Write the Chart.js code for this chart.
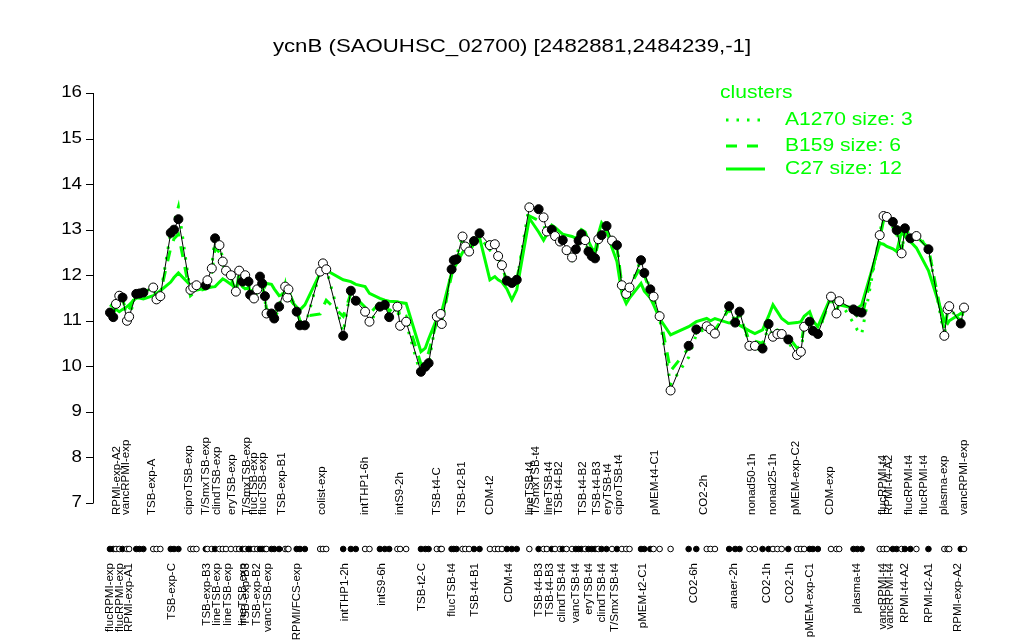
<!DOCTYPE html>
<html>
<head>
<meta charset="utf-8">
<title>ycnB expression</title>
<script src="https://cdn.jsdelivr.net/npm/chart.js@4.4.0/dist/chart.umd.min.js"></script>
<style>
  html, body { margin: 0; padding: 0; background: #fff; }
  #wrap { width: 1024px; height: 640px; }
</style>
</head>
<body>
<div id="wrap"><canvas id="chart" width="1024" height="640"></canvas></div>
<script>
const chartTitle = "ycnB (SAOUHSC_02700) [2482881,2484239,-1]";

// sample positions along the x axis (in sample slots, groups have small gaps)
const positions = [
  0, 0.6, 1.1, 1.7, 2.3, 3.1, 3.5, 4.8, 5.4, 6.1,
  7.9, 8.5, 9.2, 11.1, 11.7, 12.5, 14.7, 15.2, 15.8, 17.5,
  17.8, 18.6, 19.2, 20.0, 20.6, 21.2, 22.1, 23.0, 23.6, 24.2,
  24.7, 25.3, 25.6, 26.3, 26.9, 27.4, 27.8, 28.3, 28.6, 29.5,
  30.0, 30.9, 32.0, 32.4, 32.6, 34.1, 34.7, 35.6, 38.4, 38.9,
  39.5, 42.6, 44.0, 44.9, 46.6, 47.4, 49.3, 50.2, 51.0, 52.5,
  53.0, 54.1, 56.8, 57.6, 58.2, 59.7, 60.4, 60.6, 62.4, 62.8,
  63.3, 64.4, 64.9, 65.6, 66.5, 67.5, 69.4, 70.3, 70.9, 71.6,
  72.5, 73.4, 74.3, 76.6, 78.3, 79.2, 79.8, 80.7, 81.3, 82.2,
  82.7, 83.4, 84.4, 85.1, 85.6, 86.1, 86.8, 87.4, 88.0, 88.6,
  89.2, 89.8, 90.7, 91.7, 92.6, 93.5, 94.3, 94.9, 97.0, 97.6,
  98.7, 99.3, 100.4, 102.4, 105.7, 107.1, 109.0, 109.7, 110.5, 113.1,
  114.2, 115.0, 116.8, 117.8, 119.2, 120.3, 121.1, 121.9, 122.7, 123.9,
  125.5, 126.2, 126.8, 127.8, 128.4, 129.3, 131.7, 132.7, 133.2, 135.8,
  136.5, 137.3, 140.6, 141.3, 141.9, 143.0, 143.7, 144.6, 145.2, 146.2,
  147.3, 149.5, 152.4, 153.0, 153.3, 155.4, 156.0
];

// gene expression (log2) per sample
const expression = [
  11.18, 11.08, 11.37, 11.55, 11.51, 11.00, 11.09, 11.59, 11.60, 11.62,
  11.73, 11.47, 11.54, 12.93, 13.00, 13.23, 11.68, 11.73, 11.78, 11.78,
  11.89, 12.15, 12.81, 12.66, 12.30, 12.10, 12.00, 11.64, 12.10, 11.86,
  12.00, 11.86, 11.57, 11.49, 11.69, 11.97, 11.82, 11.54, 11.16, 11.16,
  11.05, 11.31, 11.75, 11.51, 11.69, 11.20, 10.90, 10.90, 12.08, 12.26,
  12.13, 10.67, 11.66, 11.44, 11.20, 10.98, 11.31, 11.35, 11.08, 11.31,
  10.89, 10.98, 9.88, 9.99, 10.07, 11.09, 11.15, 10.93, 12.13, 12.33,
  12.35, 12.85, 12.63, 12.52, 12.75, 12.92, 12.66, 12.68, 12.42, 12.22,
  11.88, 11.83, 11.90, 13.49, 13.45, 13.27, 12.96, 13.00, 12.86, 12.74,
  12.77, 12.55, 12.39, 12.57, 12.76, 12.90, 12.77, 12.52, 12.42, 12.37,
  12.79, 12.88, 13.08, 12.76, 12.66, 11.78, 11.59, 11.73, 12.33, 12.05,
  11.69, 11.53, 11.10, 9.47, 10.45, 10.81, 10.88, 10.81, 10.72, 11.32,
  10.96, 11.20, 10.45, 10.45, 10.39, 10.93, 10.65, 10.71, 10.71, 10.59,
  10.25, 10.32, 10.87, 10.98, 10.78, 10.71, 11.53, 11.16, 11.43, 11.25,
  11.20, 11.18, 12.88, 13.30, 13.28, 13.17, 12.99, 12.48, 13.03, 12.81,
  12.86, 12.57, 10.67, 11.25, 11.32, 10.94, 11.29
];

// 1 = filled marker, 0 = open marker
const filled = [
  1, 1, 0, 0, 1, 0, 0, 1, 1, 1,
  0, 0, 0, 1, 1, 1, 0, 0, 0, 1,
  0, 0, 1, 0, 0, 0, 0, 0, 0, 1,
  0, 1, 1, 0, 0, 1, 1, 1, 0, 1,
  1, 1, 0, 0, 0, 1, 1, 1, 0, 0,
  0, 1, 1, 1, 0, 0, 1, 1, 1, 0,
  0, 0, 1, 1, 1, 0, 0, 0, 1, 1,
  1, 0, 0, 0, 1, 1, 0, 0, 0, 0,
  1, 1, 1, 0, 1, 0, 0, 1, 0, 0,
  1, 0, 0, 1, 1, 1, 0, 1, 1, 1,
  0, 1, 1, 0, 1, 0, 0, 0, 1, 1,
  1, 0, 0, 0, 1, 1, 0, 0, 0, 1,
  1, 1, 0, 0, 1, 1, 0, 0, 0, 1,
  0, 0, 0, 1, 1, 1, 0, 0, 0, 1,
  1, 1, 0, 0, 0, 1, 1, 0, 1, 1,
  0, 1, 0, 0, 0, 1, 0
];

// cluster profiles
const clusterA1270 = [
  11.10, 11.05, 11.40, 11.55, 11.50, 11.05, 11.10, 11.55, 11.65, 11.70,
  11.80, 11.45, 11.55, 12.95, 13.15, 13.50, 11.60, 11.70, 11.80, 11.75,
  11.85, 12.20, 12.85, 12.70, 12.35, 12.15, 11.95, 11.55, 12.10, 11.85,
  12.05, 11.85, 11.50, 11.40, 11.65, 12.00, 11.85, 11.50, 11.10, 11.10,
  11.00, 11.30, 11.80, 11.45, 11.70, 11.15, 10.85, 10.85, 12.10, 12.30,
  12.15, 10.75, 11.70, 11.40, 11.15, 10.95, 11.30, 11.35, 11.05, 11.30,
  10.85, 10.95, 9.80, 9.95, 10.05, 11.10, 11.15, 10.90, 12.15, 12.35,
  12.40, 12.90, 12.65, 12.50, 12.80, 12.95, 12.70, 12.70, 12.40, 12.20,
  11.85, 11.80, 11.85, 13.55, 13.45, 13.30, 12.95, 13.05, 12.85, 12.75,
  12.80, 12.55, 12.35, 12.60, 12.80, 12.95, 12.80, 12.50, 12.40, 12.35,
  12.85, 12.95, 13.15, 12.80, 12.70, 11.75, 11.55, 11.70, 12.35, 12.05,
  11.70, 11.50, 11.05, 9.60, 10.20, 10.70, 10.85, 10.80, 10.70, 11.35,
  10.95, 11.20, 10.45, 10.40, 10.35, 10.95, 10.60, 10.70, 10.70, 10.55,
  10.20, 10.30, 10.85, 11.00, 10.75, 10.70, 11.55, 11.15, 11.45, 10.95,
  10.80, 10.70, 12.90, 13.35, 13.30, 13.20, 13.00, 12.45, 13.05, 12.85,
  12.90, 12.60, 10.65, 11.25, 11.30, 10.95, 11.30
];
const clusterB159 = [
  11.25, 11.15, 11.30, 11.50, 11.45, 11.20, 11.25, 11.60, 11.60, 11.65,
  11.70, 11.50, 11.60, 12.60, 12.80, 12.90, 11.55, 11.60, 11.65, 11.70,
  11.80, 12.05, 12.60, 12.50, 12.25, 12.05, 11.95, 11.60, 12.05, 11.80,
  11.95, 11.80, 11.55, 11.45, 11.65, 11.90, 11.80, 11.50, 11.25, 11.20,
  11.10, 11.35, 11.70, 11.50, 11.65, 11.25, 11.00, 11.10, 11.15, 11.30,
  11.45, 11.10, 11.60, 11.50, 11.30, 11.15, 11.40, 11.45, 11.20, 11.40,
  11.05, 11.10, 10.05, 10.15, 10.30, 11.00, 11.10, 11.00, 12.00, 12.25,
  12.30, 12.75, 12.60, 12.50, 12.70, 12.85, 12.55, 12.60, 12.40, 12.20,
  11.85, 11.80, 11.90, 13.30, 13.20, 13.10, 12.90, 12.95, 12.80, 12.70,
  12.75, 12.55, 12.40, 12.55, 12.70, 12.85, 12.75, 12.50, 12.45, 12.40,
  12.75, 12.85, 13.00, 12.70, 12.60, 11.80, 11.65, 11.75, 12.20, 12.00,
  11.65, 11.50, 11.15, 9.90, 10.40, 10.75, 10.90, 10.85, 10.80, 11.25,
  11.00, 11.15, 10.55, 10.55, 10.50, 10.95, 10.75, 10.80, 10.75, 10.65,
  10.40, 10.45, 10.90, 10.95, 10.80, 10.75, 11.50, 11.20, 11.40, 11.20,
  11.10, 11.05, 12.80, 13.20, 13.15, 13.05, 12.90, 12.55, 12.95, 12.80,
  12.85, 12.60, 10.80, 11.20, 11.25, 11.00, 11.25
];
const clusterC27 = [
  11.35, 11.30, 11.25, 11.20, 11.25, 11.31, 11.35, 11.50, 11.50, 11.48,
  11.55, 11.60, 11.66, 11.85, 11.95, 12.05, 11.78, 11.72, 11.67, 11.72,
  11.72, 11.74, 11.75, 11.85, 11.92, 11.88, 11.80, 11.72, 11.90, 11.75,
  11.70, 11.72, 11.65, 11.68, 11.70, 11.85, 11.80, 11.75, 11.82, 11.80,
  11.70, 11.55, 11.60, 11.55, 11.50, 11.30, 11.24, 11.35, 12.05, 12.10,
  12.11, 11.90, 11.86, 11.80, 11.75, 11.60, 11.49, 11.45, 11.43, 11.42,
  11.40, 11.38, 10.32, 10.40, 10.60, 11.05, 11.15, 11.20, 12.05, 12.15,
  12.25, 12.50, 12.58, 12.65, 12.75, 12.83, 11.90, 11.97, 11.90, 11.85,
  11.70, 11.46, 11.68, 13.25, 12.95, 12.77, 12.90, 13.10, 13.05, 12.95,
  12.90, 12.88, 12.85, 12.81, 12.90, 13.00, 12.95, 12.75, 12.60, 12.52,
  12.90, 13.15, 13.00, 12.60, 12.30, 11.60, 11.38, 11.50, 11.82, 11.65,
  11.50, 11.35, 11.05, 10.69, 10.87, 10.98, 11.05, 11.00, 11.05, 10.95,
  10.98, 10.90, 10.78, 10.72, 10.80, 11.10, 11.35, 11.20, 11.05, 10.94,
  10.96, 10.98, 11.10, 11.20, 11.00, 10.87, 11.53, 11.40, 11.35, 11.28,
  11.27, 11.35, 12.70, 12.68, 12.63, 12.58, 12.52, 12.96, 12.85, 12.74,
  12.60, 12.10, 11.00, 10.94, 11.00, 11.16, 11.20
];

const yTicks = [7, 8, 9, 10, 11, 12, 13, 14, 15, 16];

// sample labels: [position, text]
const bottomLabels = [
  [0, "flucRPMI-exp"], [1.8, "flucRPMI-exp"], [3.5, "RPMI-exp-A1"], [11.3, "TSB-exp-C"],
  [17.7, "TSB-exp-B3"], [19.5, "lineTSB-exp"], [21.6, "lineTSB-exp"], [24.3, "lineTSB-exp"],
  [24.8, "TSB-exp-B3"], [26.9, "TSB-exp-B2"], [28.9, "vancTSB-exp"], [34.1, "RPMI/FCS-exp"],
  [42.9, "intTHP1-2h"], [49.6, "intS9-6h"], [56.9, "TSB-t2-C"], [62.4, "flucTSB-t4"],
  [66.7, "TSB-t4-B1"], [72.8, "CDM-t4"], [78.4, "TSB-t4-B3"], [80.4, "TSB-t4-B3"],
  [82.5, "clindTSB-t4"], [85.1, "vancTSB-t4"], [87.4, "eryTSB-t4"], [89.8, "clindTSB-t4"],
  [92.3, "T/SmxTSB-t4"], [97.4, "pMEM-t2-C1"], [106.6, "CO2-6h"], [114.0, "anaer-2h"],
  [120.0, "CO2-1h"], [124.2, "CO2-1h"], [127.9, "pMEM-exp-C1"], [136.4, "plasma-t4"],
  [141.2, "vancRPMI-t4"], [142.5, "vancRPMI-t4"], [145.2, "RPMI-t4-A2"], [149.5, "RPMI-t2-A1"],
  [154.8, "RPMI-exp-A2"]
];
const topLabels = [
  [1.2, "RPMI-exp-A2"], [2.9, "vancRPMI-exp"], [7.6, "TSB-exp-A"], [14.4, "ciproTSB-exp"],
  [17.5, "T/SmxTSB-exp"], [19.5, "clindTSB-exp"], [22.2, "eryTSB-exp"], [25.0, "T/SmxTSB-exp"],
  [26.3, "flucTSB-exp"], [28.0, "flucTSB-exp"], [31.4, "TSB-exp-B1"], [38.7, "colist-exp"],
  [46.6, "intTHP1-6h"], [52.9, "intS9-2h"], [59.7, "TSB-t4-C"], [64.3, "TSB-t2-B1"],
  [69.4, "CDM-t2"], [76.7, "lineTSB-t4"], [77.8, "T/SmxTSB-t4"], [80.1, "lineTSB-t4"],
  [81.9, "TSB-t4-B2"], [86.4, "TSB-t4-B2"], [88.9, "TSB-t4-B3"], [91.0, "eryTSB-t4"],
  [93.0, "ciproTSB-t4"], [99.6, "pMEM-t4-C1"], [108.5, "CO2-2h"], [117.2, "nonad50-1h"],
  [121.1, "nonad25-1h"], [125.3, "pMEM-exp-C2"], [131.5, "CDM-exp"], [141.2, "flucRPMI-t4"],
  [142.2, "RPMI-t4-A2"], [146.0, "flucRPMI-t4"], [148.7, "flucRPMI-t4"], [152.4, "plasma-exp"],
  [156.0, "vancRPMI-exp"]
];

const legendTitle = "clusters";
const legendNames = ["A1270 size: 3", "B159 size: 6", "C27 size: 12"];

const GREEN = "#00ff00";
const FONT = '"Liberation Sans", Arial, Helvetica, sans-serif';
const STRETCH = 1.17;

function pts(values) {
  return positions.map((p, i) => ({ x: p, y: values[i] }));
}

function stretchedText(ctx, text, x, y, size, align, color) {
  ctx.save();
  ctx.font = size + "px " + FONT;
  ctx.fillStyle = color;
  ctx.textAlign = align;
  ctx.textBaseline = "middle";
  ctx.translate(x, y);
  ctx.scale(STRETCH, 1);
  ctx.fillText(text, 0, 0);
  ctx.restore();
}

const overlay = {
  id: "overlay",
  afterDraw(chart) {
    const ctx = chart.ctx;
    const xs = chart.scales.x, ys = chart.scales.y;
    const left = chart.chartArea.left;

    // title
    stretchedText(ctx, chartTitle, 512, 47, 19, "center", "#000");

    // y axis
    ctx.save();
    ctx.strokeStyle = "#000";
    ctx.lineWidth = 1;
    ctx.beginPath();
    ctx.moveTo(left + 0.5, ys.getPixelForValue(yTicks[0]));
    ctx.lineTo(left + 0.5, ys.getPixelForValue(yTicks[yTicks.length - 1]));
    yTicks.forEach(t => {
      const py = Math.round(ys.getPixelForValue(t)) + 0.5;
      ctx.moveTo(left + 0.5, py);
      ctx.lineTo(left - 7, py);
    });
    ctx.stroke();
    ctx.restore();
    yTicks.forEach(t => {
      stretchedText(ctx, String(t), left - 11, ys.getPixelForValue(t), 16, "right", "#000");
    });

    // sample strip
    const stripY = 549;
    ctx.save();
    ctx.lineWidth = 1;
    ctx.strokeStyle = "#000";
    positions.forEach((p, i) => {
      ctx.beginPath();
      ctx.arc(xs.getPixelForValue(p), stripY, 2.8, 0, Math.PI * 2);
      ctx.fillStyle = filled[i] ? "#000" : "#fff";
      ctx.fill();
      ctx.stroke();
    });
    ctx.restore();

    // sample labels
    ctx.save();
    ctx.font = "11.5px " + FONT;
    ctx.fillStyle = "#000";
    ctx.textBaseline = "middle";
    topLabels.forEach(([p, text]) => {
      ctx.save();
      ctx.translate(xs.getPixelForValue(p), 515);
      ctx.rotate(-Math.PI / 2);
      ctx.textAlign = "left";
      ctx.fillText(text, 0, 0);
      ctx.restore();
    });
    bottomLabels.forEach(([p, text]) => {
      ctx.save();
      ctx.translate(xs.getPixelForValue(p), 563);
      ctx.rotate(-Math.PI / 2);
      ctx.textAlign = "right";
      ctx.fillText(text, 0, 0);
      ctx.restore();
    });
    ctx.restore();

    // legend
    stretchedText(ctx, legendTitle, 720, 93, 18, "left", GREEN);
    const dashes = [[2.5, 8], [11, 10], []];
    const rows = [120, 146, 169];
    ctx.save();
    ctx.strokeStyle = GREEN;
    ctx.lineWidth = 3;
    rows.forEach((ry, k) => {
      ctx.setLineDash(dashes[k]);
      ctx.beginPath();
      ctx.moveTo(726, ry);
      ctx.lineTo(k === 2 ? 765 : 762, ry);
      ctx.stroke();
    });
    ctx.restore();
    rows.forEach((ry, k) => stretchedText(ctx, legendNames[k], 785, ry, 18, "left", GREEN));
  }
};

new Chart(document.getElementById("chart"), {
  type: "line",
  data: {
    datasets: [
      {
        label: "expression",
        data: pts(expression),
        borderColor: "#000",
        borderWidth: 1,
        pointRadius: 4.5,
        pointBackgroundColor: filled.map(f => (f ? "#000" : "#fff")),
        pointBorderColor: "#000",
        pointBorderWidth: 1,
        order: 0
      },
      {
        label: legendNames[0],
        data: pts(clusterA1270),
        borderColor: GREEN,
        borderWidth: 3,
        borderDash: [2.5, 8],
        pointRadius: 0,
        order: 1
      },
      {
        label: legendNames[1],
        data: pts(clusterB159),
        borderColor: GREEN,
        borderWidth: 3,
        borderDash: [11, 10],
        pointRadius: 0,
        order: 2
      },
      {
        label: legendNames[2],
        data: pts(clusterC27),
        borderColor: GREEN,
        borderWidth: 3,
        pointRadius: 0,
        order: 3
      }
    ]
  },
  options: {
    responsive: false,
    animation: false,
    devicePixelRatio: 1,
    layout: { padding: { left: 93, right: 43, top: 93, bottom: 137 } },
    plugins: {
      legend: { display: false },
      tooltip: { enabled: false },
      title: { display: false }
    },
    scales: {
      x: { type: "linear", display: false, min: -3.1, max: 159.1 },
      y: { display: false, min: 7, max: 16 }
    },
    elements: { line: { tension: 0 } }
  },
  plugins: [overlay]
});
</script>
</body>
</html>
